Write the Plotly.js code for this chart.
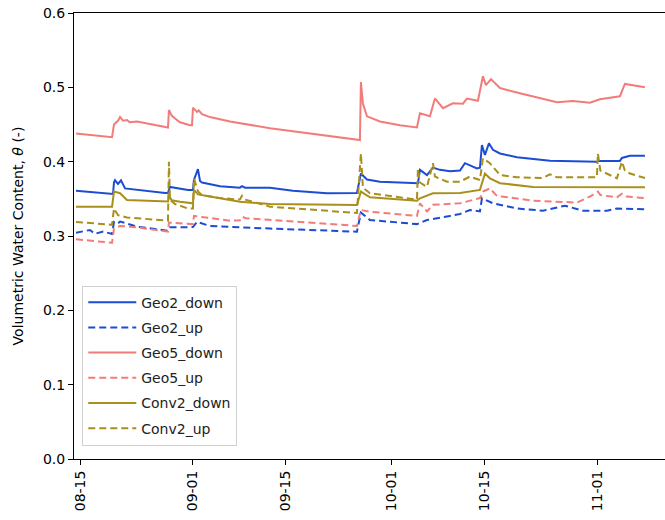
<!DOCTYPE html>
<html>
<head>
<meta charset="utf-8">
<script src="https://cdn.plot.ly/plotly-3.0.1.min.js"></script>
<style>html,body{margin:0;padding:0;background:#fff;}#chart{width:665px;height:520px;}</style>
</head>
<body>
<div id="chart"></div>
<script>
// ---------- data ----------
const seriesNames = ["Geo2_down", "Geo2_up", "Geo5_down", "Geo5_up", "Conv2_down", "Conv2_up"];

const geo2DownT = ["2019-08-14 09:30","2019-08-19 23:30","2019-08-20 03:00","2019-08-20 06:40","2019-08-20 17:30","2019-08-21 04:30","2019-08-21 19:00","2019-08-23 14:20","2019-08-27 19:40","2019-08-28 06:30","2019-08-28 13:40","2019-08-31 07:00","2019-09-01 01:00","2019-09-01 04:30","2019-09-01 19:00","2019-09-02 02:30","2019-09-02 09:40","2019-09-05 03:00","2019-09-08 03:00","2019-09-08 10:30","2019-09-08 21:30","2019-09-12 15:50","2019-09-16 03:00","2019-09-21 06:00","2019-09-25 18:40","2019-09-26 09:00","2019-09-27 07:00","2019-09-29 06:00","2019-10-04 12:45","2019-10-04 23:30","2019-10-05 06:45","2019-10-06 08:10","2019-10-07 05:50","2019-10-08 07:10","2019-10-09 19:20","2019-10-11 07:40","2019-10-12 01:40","2019-10-13 21:00","2019-10-14 08:00","2019-10-14 15:10","2019-10-15 02:00","2019-10-15 16:30","2019-10-16 07:00","2019-10-17 08:30","2019-10-19 22:00","2019-10-24 21:20","2019-10-31 23:30","2019-11-01 03:00","2019-11-04 10:50","2019-11-04 18:00","2019-11-05 23:00","2019-11-08 05:20"];
const geo2DownV = [0.361,0.3565,0.372,0.375,0.370,0.375,0.364,0.362,0.358,0.358,0.366,0.362,0.362,0.3753,0.390,0.374,0.372,0.367,0.365,0.367,0.365,0.365,0.361,0.3575,0.358,0.384,0.376,0.373,0.371,0.371,0.389,0.382,0.392,0.389,0.387,0.388,0.398,0.391,0.392,0.4224,0.409,0.4247,0.416,0.411,0.406,0.4013,0.400,0.401,0.401,0.405,0.408,0.408];

const geo2UpT = ["2019-08-14 09:30","2019-08-16 12:00","2019-08-17 06:00","2019-08-18 12:00","2019-08-19 20:00","2019-08-20 03:00","2019-08-20 17:30","2019-08-21 01:00","2019-08-23 14:20","2019-08-27 19:40","2019-08-28 06:30","2019-08-28 13:40","2019-08-31 07:00","2019-09-01 01:00","2019-09-01 15:30","2019-09-03 14:40","2019-09-12 15:50","2019-09-25 18:40","2019-09-26 09:00","2019-09-27 17:45","2019-10-04 20:00","2019-10-06 08:10","2019-10-09 19:20","2019-10-11 07:40","2019-10-12 19:40","2019-10-14 08:00","2019-10-14 15:10","2019-10-16 07:00","2019-10-19 22:00","2019-10-23 20:00","2019-10-27 03:40","2019-10-29 20:50","2019-11-02 11:40","2019-11-03 23:50","2019-11-08 05:20"];
const geo2UpV = [0.3045,0.308,0.303,0.306,0.3027,0.319,0.317,0.3195,0.3126,0.307,0.307,0.3117,0.3117,0.312,0.319,0.3135,0.310,0.3058,0.3314,0.3215,0.316,0.3215,0.327,0.3296,0.335,0.333,0.3507,0.344,0.337,0.334,0.3408,0.334,0.334,0.337,0.336];

const geo5DownT = ["2019-08-14 09:30","2019-08-16 12:00","2019-08-19 12:30","2019-08-19 20:00","2019-08-20 03:00","2019-08-20 17:30","2019-08-21 01:00","2019-08-21 12:00","2019-08-22 02:00","2019-08-22 12:00","2019-08-23 14:20","2019-08-25 13:20","2019-08-27 19:40","2019-08-28 06:30","2019-08-28 10:00","2019-08-28 20:00","2019-08-29 08:00","2019-08-30 02:00","2019-08-31 14:10","2019-08-31 21:30","2019-09-01 01:00","2019-09-01 15:30","2019-09-01 22:00","2019-09-02 09:40","2019-09-03 14:40","2019-09-06 15:00","2019-09-12 15:50","2019-09-20 04:50","2019-09-25 11:30","2019-09-26 05:30","2019-09-26 09:00","2019-09-26 16:20","2019-09-27 07:00","2019-09-29 06:00","2019-10-02 06:30","2019-10-04 20:00","2019-10-05 06:45","2019-10-06 19:00","2019-10-07 13:00","2019-10-08 18:00","2019-10-10 06:15","2019-10-11 18:30","2019-10-12 09:00","2019-10-14 00:45","2019-10-14 18:45","2019-10-15 05:40","2019-10-15 23:50","2019-10-17 08:30","2019-10-20 08:50","2019-10-23 09:10","2019-10-25 22:40","2019-10-28 08:40","2019-10-30 22:00","2019-11-01 10:20","2019-11-04 10:50","2019-11-05 04:50","2019-11-06 09:50","2019-11-08 05:20"];
const geo5DownV = [0.438,0.436,0.433,0.433,0.450,0.455,0.460,0.455,0.456,0.453,0.454,0.451,0.447,0.446,0.4695,0.462,0.458,0.453,0.449,0.449,0.4725,0.467,0.469,0.464,0.460,0.454,0.445,0.436,0.429,0.429,0.507,0.478,0.461,0.454,0.449,0.446,0.465,0.461,0.485,0.472,0.4785,0.478,0.485,0.482,0.515,0.503,0.511,0.499,0.492,0.485,0.480,0.4816,0.4794,0.484,0.488,0.5045,0.503,0.500];

const geo5UpT = ["2019-08-14 09:30","2019-08-19 20:00","2019-08-20 03:00","2019-08-21 01:00","2019-08-23 14:20","2019-08-27 19:40","2019-08-28 06:30","2019-08-28 10:00","2019-08-31 14:10","2019-09-01 01:00","2019-09-01 04:30","2019-09-03 14:40","2019-09-06 15:00","2019-09-08 03:00","2019-09-08 10:30","2019-09-09 00:00","2019-09-12 15:50","2019-09-25 18:40","2019-09-26 09:00","2019-09-27 17:45","2019-10-04 20:00","2019-10-05 06:45","2019-10-06 08:10","2019-10-07 05:50","2019-10-11 07:40","2019-10-14 08:00","2019-10-14 18:45","2019-10-15 20:10","2019-10-16 21:30","2019-10-22 08:00","2019-10-28 23:00","2019-10-30 22:00","2019-11-01 03:00","2019-11-01 12:00","2019-11-03 23:50","2019-11-04 18:00","2019-11-05 12:00","2019-11-08 05:20"];
const geo5UpV = [0.2955,0.291,0.310,0.3135,0.3117,0.306,0.306,0.318,0.316,0.316,0.327,0.3238,0.3206,0.321,0.326,0.324,0.3215,0.3135,0.335,0.3327,0.327,0.344,0.333,0.342,0.344,0.351,0.3597,0.364,0.354,0.3475,0.345,0.353,0.3597,0.355,0.352,0.357,0.353,0.351];

const conv2DownT = ["2019-08-14 09:30","2019-08-19 20:00","2019-08-20 03:00","2019-08-21 01:00","2019-08-22 02:00","2019-08-27 19:40","2019-08-28 06:30","2019-08-28 10:00","2019-08-28 20:00","2019-08-30 02:00","2019-08-31 14:10","2019-09-01 01:00","2019-09-01 04:30","2019-09-01 19:00","2019-09-03 14:40","2019-09-08 03:00","2019-09-12 15:50","2019-09-25 18:40","2019-09-26 09:00","2019-09-27 17:45","2019-10-04 20:00","2019-10-05 06:45","2019-10-07 05:50","2019-10-11 07:40","2019-10-14 08:00","2019-10-15 02:00","2019-10-15 20:10","2019-10-17 08:30","2019-10-22 08:00","2019-11-08 05:20"];
const conv2DownV = [0.3395,0.3395,0.3597,0.3575,0.3485,0.3463,0.3463,0.354,0.348,0.346,0.344,0.344,0.362,0.356,0.353,0.346,0.343,0.3417,0.3597,0.352,0.3475,0.3507,0.3575,0.358,0.362,0.384,0.3776,0.371,0.366,0.3655];

const conv2UpT = ["2019-08-14 09:30","2019-08-19 20:00","2019-08-20 03:00","2019-08-20 17:30","2019-08-22 02:00","2019-08-27 19:40","2019-08-28 06:30","2019-08-28 10:00","2019-08-28 13:40","2019-08-29 08:00","2019-08-31 07:00","2019-09-01 01:00","2019-09-01 04:30","2019-09-01 19:00","2019-09-02 09:40","2019-09-05 03:00","2019-09-08 03:00","2019-09-08 10:30","2019-09-08 21:30","2019-09-12 15:50","2019-09-25 18:40","2019-09-26 09:00","2019-09-26 16:20","2019-09-27 17:45","2019-10-04 20:00","2019-10-04 23:30","2019-10-05 06:45","2019-10-06 08:10","2019-10-07 05:50","2019-10-07 13:00","2019-10-09 08:30","2019-10-11 07:40","2019-10-12 19:40","2019-10-14 08:00","2019-10-14 18:45","2019-10-15 20:10","2019-10-17 08:30","2019-10-19 22:00","2019-10-23 20:00","2019-10-24 21:20","2019-10-25 22:40","2019-10-31 23:30","2019-11-01 03:00","2019-11-01 12:00","2019-11-02 11:40","2019-11-03 23:50","2019-11-04 18:00","2019-11-05 04:50","2019-11-05 23:00","2019-11-08 05:20"];
const conv2UpV = [0.319,0.315,0.337,0.328,0.325,0.3206,0.3206,0.400,0.349,0.343,0.337,0.337,0.3776,0.360,0.355,0.351,0.349,0.354,0.349,0.3395,0.331,0.411,0.365,0.3575,0.349,0.391,0.372,0.366,0.398,0.380,0.373,0.373,0.380,0.3753,0.4045,0.398,0.382,0.379,0.378,0.383,0.379,0.379,0.411,0.388,0.384,0.3776,0.400,0.388,0.384,0.378];

const tickDates = ["2019-08-15","2019-09-01","2019-09-15","2019-10-01","2019-10-15","2019-11-01"];
const tickLabels = ["08-15","09-01","09-15","10-01","10-15","11-01"];
const yTicks = [0.0,0.1,0.2,0.3,0.4,0.5,0.6];

// ---------- styles ----------
const BLUE = "#1b4cd3", RED = "#f27c79", OLIVE = "#a98f1b";
const DASH = "7px,4px";
const xs = [geo2DownT, geo2UpT, geo5DownT, geo5UpT, conv2DownT, conv2UpT];
const ys = [geo2DownV, geo2UpV, geo5DownV, geo5UpV, conv2DownV, conv2UpV];
const colors = [BLUE, BLUE, RED, RED, OLIVE, OLIVE];
const dashes = ["solid", DASH, "solid", DASH, "solid", DASH];

const traces = seriesNames.map((n, i) => ({
  type: "scatter", mode: "lines", name: n,
  x: xs[i], y: ys[i],
  line: {color: colors[i], width: 2, dash: dashes[i]},
  legendgroup: "g" + i,
  hoverinfo: "skip"
}));

const layout = {
  width: 665, height: 520,
  margin: {l: 74, r: 0, t: 13, b: 61},
  paper_bgcolor: "#fff", plot_bgcolor: "#fff",
  font: {family: "DejaVu Sans", size: 14, color: "#000"},
  showlegend: true,
  legend: {
    x: 0.014, y: 0.03, xanchor: "left", yanchor: "bottom",
    bgcolor: "rgba(255,255,255,0.9)", bordercolor: "#d0d0d0", borderwidth: 1,
    font: {family: "DejaVu Sans", size: 14, color: "#222"},
    tracegroupgap: 4, itemwidth: 48
  },
  xaxis: {
    type: "date",
    range: ["2019-08-14 02:15", "2019-11-11 06:00"],
    tickvals: tickDates, ticktext: tickLabels, tickangle: -90,
    showgrid: false, zeroline: false,
    showline: true, linecolor: "#000", linewidth: 1, mirror: true,
    ticks: "outside", ticklen: 5, tickcolor: "#000",
    tickfont: {family: "DejaVu Sans", size: 14, color: "#000"}
  },
  yaxis: {
    range: [0, 0.6],
    tickvals: yTicks, tickformat: ".1f",
    showgrid: false, zeroline: false,
    showline: true, linecolor: "#000", linewidth: 1,
    ticks: "outside", ticklen: 5, tickcolor: "#000",
    tickfont: {family: "DejaVu Sans", size: 14, color: "#000"},
    title: {text: "Volumetric Water Content, <i>θ</i> (-)", font: {family: "DejaVu Sans", size: 14, color: "#000"}, standoff: 16}
  }
};

Plotly.newPlot("chart", traces, layout, {displayModeBar: false, staticPlot: true});
</script>
</body>
</html>
